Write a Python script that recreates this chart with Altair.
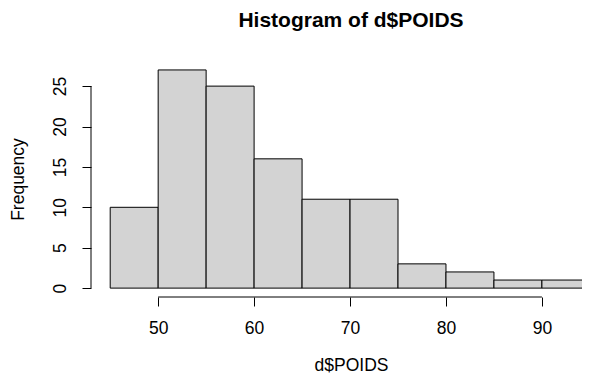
import altair as alt
import pandas as pd

bin_start = [45, 50, 55, 60, 65, 70, 75, 80, 85, 90]
bin_end = [50, 55, 60, 65, 70, 75, 80, 85, 90, 95]
counts = [10, 27, 25, 16, 11, 11, 3, 2, 1, 1]
x_ticks = [50, 60, 70, 80, 90]
y_ticks = [0, 5, 10, 15, 20, 25]
main_title = "Histogram of d$POIDS"

df = pd.DataFrame({"start": bin_start, "end": bin_end, "count": counts, "zero": [0] * len(counts)})

FONT = "Liberation Sans"
W, H = 491, 236
XPX = 9.594  # pixels per unit in the reference
xs = alt.Scale(domain=[43, 43 + W / XPX], nice=False, zero=False)
ys = alt.Scale(domain=[-1.1, -1.1 + H / 8.08], nice=False, zero=False)

bars = alt.Chart(df).mark_rect(fill="#D3D3D3", stroke="black", strokeWidth=1, clip=True).encode(
    x=alt.X("start:Q", scale=xs, axis=alt.Axis(
        values=x_ticks, title="d$POIDS", domain=False, grid=False,
        tickSize=9, tickColor="black", tickWidth=1,
        labelFont=FONT, labelFontSize=17.5, labelColor="black", labelPadding=13,
        labelBaseline="top", labelFlush=False, labelOverlap=False,
        titleFont=FONT, titleFontSize=17.5, titleFontWeight="normal", titleColor="black",
        titleX=260, titleY=68, titleBaseline="middle", titleAlign="center")),
    x2="end:Q",
    y=alt.Y("zero:Q", scale=ys, axis=alt.Axis(
        values=y_ticks, title="Frequency", domain=False, grid=False,
        tickSize=9, tickColor="black", tickWidth=1,
        labelFont=FONT, labelFontSize=17.5, labelColor="black", labelAngle=270,
        labelAlign="center", labelBaseline="bottom", labelPadding=13,
        labelFlush=False, labelOverlap=False,
        titleFont=FONT, titleFontSize=17.5, titleFontWeight="normal", titleColor="black",
        titleX=-73, titleY=118, titleAngle=270, titleBaseline="middle", titleAlign="center")),
    y2="count:Q",
)

xline = alt.Chart(pd.DataFrame({"a": [x_ticks[0]], "b": [x_ticks[-1]]})).mark_rule(color="black", strokeWidth=1).encode(
    x=alt.X("a:Q", scale=xs), x2="b:Q", y=alt.value(H))
yline = alt.Chart(pd.DataFrame({"a": [y_ticks[0]], "b": [y_ticks[-1]]})).mark_rule(color="black", strokeWidth=1).encode(
    y=alt.Y("a:Q", scale=ys), y2="b:Q", x=alt.value(0))

title_mark = alt.Chart(pd.DataFrame({"t": [main_title]})).mark_text(
    font=FONT, fontSize=21, fontWeight="bold", color="black", align="center", baseline="alphabetic"
).encode(text="t:N", x=alt.value(260), y=alt.value(-34))

chart = alt.layer(bars, xline, yline, title_mark).properties(
    width=W, height=H,
    autosize=alt.AutoSizeParams(type="none"),
    padding={"left": 83, "top": 53, "right": 0, "bottom": 77},
).configure_view(stroke=None)

chart.save("out.html", embed_options={"renderer": "svg", "actions": False})
